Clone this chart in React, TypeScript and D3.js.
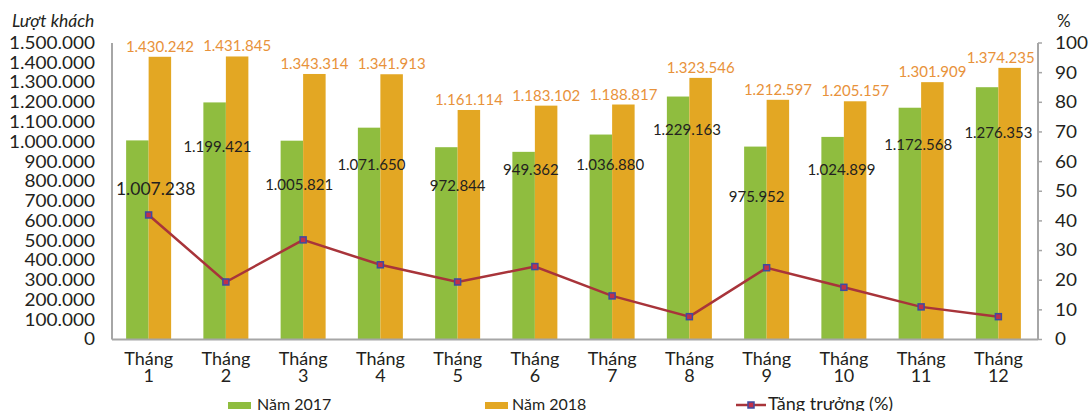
import React from 'react';
import * as d3 from 'd3';

const months = ['1', '2', '3', '4', '5', '6', '7', '8', '9', '10', '11', '12'];
const visitors2017 = [1007238, 1199421, 1005821, 1071650, 972844, 949362, 1036880, 1229163, 975952, 1024899, 1172568, 1276353];
const visitors2018 = [1430242, 1431845, 1343314, 1341913, 1161114, 1183102, 1188817, 1323546, 1212597, 1205157, 1301909, 1374235];
const growth = [42.0, 19.4, 33.6, 25.2, 19.4, 24.6, 14.7, 7.7, 24.2, 17.6, 11.0, 7.7];
const leftTicks = [0, 100000, 200000, 300000, 400000, 500000, 600000, 700000, 800000, 900000, 1000000, 1100000, 1200000, 1300000, 1400000, 1500000];
const rightTicks = [0, 10, 20, 30, 40, 50, 60, 70, 80, 90, 100];
// hand placement of the value labels (offset from category centre / bar top)
const label2017Dx = [7, -8.5, -4, -9, 0, -4, -2, -2.5, -10, -2.5, -3, 0];
const label2017Dy = [48, 44, 44, 37, 38, 18, 30, 33.5, 50, 33, 37, 45];
const label2017Size = [17.5, 15, 15, 15, 15, 15, 15, 15, 15, 15, 15, 15];
const label2018Dx = [0, 0, 0, 0, 0, 0, 0, 0, 0, 0, 0, -9];

const GREEN = '#8fbd3f';
const ORANGE = '#e3a723';
const ORANGE_TEXT = '#e8923a';
const LINE = '#a8343a';
const AXIS = '#a6a6a6';
const TEXT = '#231f20';
const FONT = 'Lato, "Open Sans", sans-serif';

const locale = d3.formatLocale({ decimal: ',', thousands: '.', grouping: [3], currency: ['', ''] });
const fmt = locale.format(',d');

export default function App() {
  const W = 1090, H = 411;
  const left = 112, right = 1038, top = 43, bottom = 339.5;
  const x = d3.scaleBand<string>().domain(months).range([110, 1037]);
  const yL = d3.scaleLinear().domain([0, 1500000]).range([bottom, top]);
  const yR = d3.scaleLinear().domain([0, 100]).range([bottom, top]);
  const half = 22.5;
  const cx = (m: string) => (x(m) as number) + x.bandwidth() / 2;
  const line = d3.line<number>().x((_, i) => cx(months[i])).y((d) => yR(d));
  const tickSx = 1.15;

  return (
    <svg width={W} height={H} style={{ position: 'absolute', left: 0, top: 0 }} fontFamily={FONT}>
      <rect width={W} height={H} fill="#fff" />
      {/* bars */}
      {months.map((m, i) => (
        <g key={m}>
          <rect x={cx(m) - half} y={yL(visitors2017[i])} width={half} height={bottom - yL(visitors2017[i])} fill={GREEN} />
          <rect x={cx(m)} y={yL(visitors2018[i])} width={half} height={bottom - yL(visitors2018[i])} fill={ORANGE} />
        </g>
      ))}
      {/* axes */}
      <line x1={left} x2={left} y1={top} y2={bottom} stroke={AXIS} strokeWidth={2} />
      <line x1={left} x2={right} y1={bottom} y2={bottom} stroke={AXIS} strokeWidth={2} />
      <line x1={right} x2={right} y1={top} y2={bottom} stroke={AXIS} strokeWidth={2} />
      {rightTicks.map((t) => (
        <line key={t} x1={right} x2={right + 4} y1={yR(t)} y2={yR(t)} stroke={AXIS} strokeWidth={1.5} />
      ))}
      {/* left tick labels */}
      {leftTicks.map((t) => (
        <g key={t} transform={`translate(95,${yL(t)}) scale(${tickSx},1)`}>
          <text textAnchor="end" dy="0.36em" fontSize={16.5} fill={TEXT}>{fmt(t)}</text>
        </g>
      ))}
      {rightTicks.map((t) => (
        <g key={t} transform={`translate(1055,${yR(t)}) scale(${tickSx},1)`}>
          <text textAnchor="start" dy="0.36em" fontSize={16.5} fill={TEXT}>{t}</text>
        </g>
      ))}
      <text x={12} y={27} fontSize={17.5} fontStyle="italic" fill={TEXT}>Lượt khách</text>
      <text x={1057} y={27} fontSize={17} fill={TEXT}>%</text>
      {/* x labels */}
      {months.map((m) => (
        <g key={m}>
          <text x={cx(m)} y={365} textAnchor="middle" fontSize={18} fill={TEXT}>Tháng</text>
          <text x={cx(m)} y={382} textAnchor="middle" fontSize={18} fill={TEXT}>{m}</text>
        </g>
      ))}
      {/* growth line */}
      <path d={line(growth) || ''} fill="none" stroke={LINE} strokeWidth={2.5} />
      {growth.map((g, i) => (
        <rect key={i} x={cx(months[i]) - 3} y={yR(g) - 3} width={6} height={6} fill="#c0304a" stroke="#3f4aa0" strokeWidth={1.5} />
      ))}
      {/* value labels */}
      {months.map((m, i) => (
        <text key={'o' + m} x={cx(m) + half / 2 + label2018Dx[i]} y={yL(visitors2018[i]) - 5} textAnchor="middle" fontSize={15} fill={ORANGE_TEXT}>
          {fmt(visitors2018[i])}
        </text>
      ))}
      {months.map((m, i) => (
        <text key={'g' + m} x={cx(m) + label2017Dx[i]} y={yL(visitors2017[i]) + label2017Dy[i]} dy="0.36em" textAnchor="middle" fontSize={label2017Size[i]} fill={TEXT}>
          {fmt(visitors2017[i])}
        </text>
      ))}
      {/* legend */}
      <rect x={228} y={402} width={23} height={7} fill={GREEN} />
      <text x={257} y={410} fontSize={16} fill={TEXT}>Năm 2017</text>
      <rect x={485} y={402} width={23} height={7} fill={ORANGE} />
      <text x={512} y={410} fontSize={16} fill={TEXT}>Năm 2018</text>
      <line x1={736} x2={766} y1={405} y2={405} stroke={LINE} strokeWidth={2.5} />
      <rect x={748} y={402} width={6} height={6} fill="#c0304a" stroke="#3f4aa0" strokeWidth={1.5} />
      <text x={768} y={410} fontSize={18} fill={TEXT}>Tăng trưởng (%)</text>
    </svg>
  );
}
